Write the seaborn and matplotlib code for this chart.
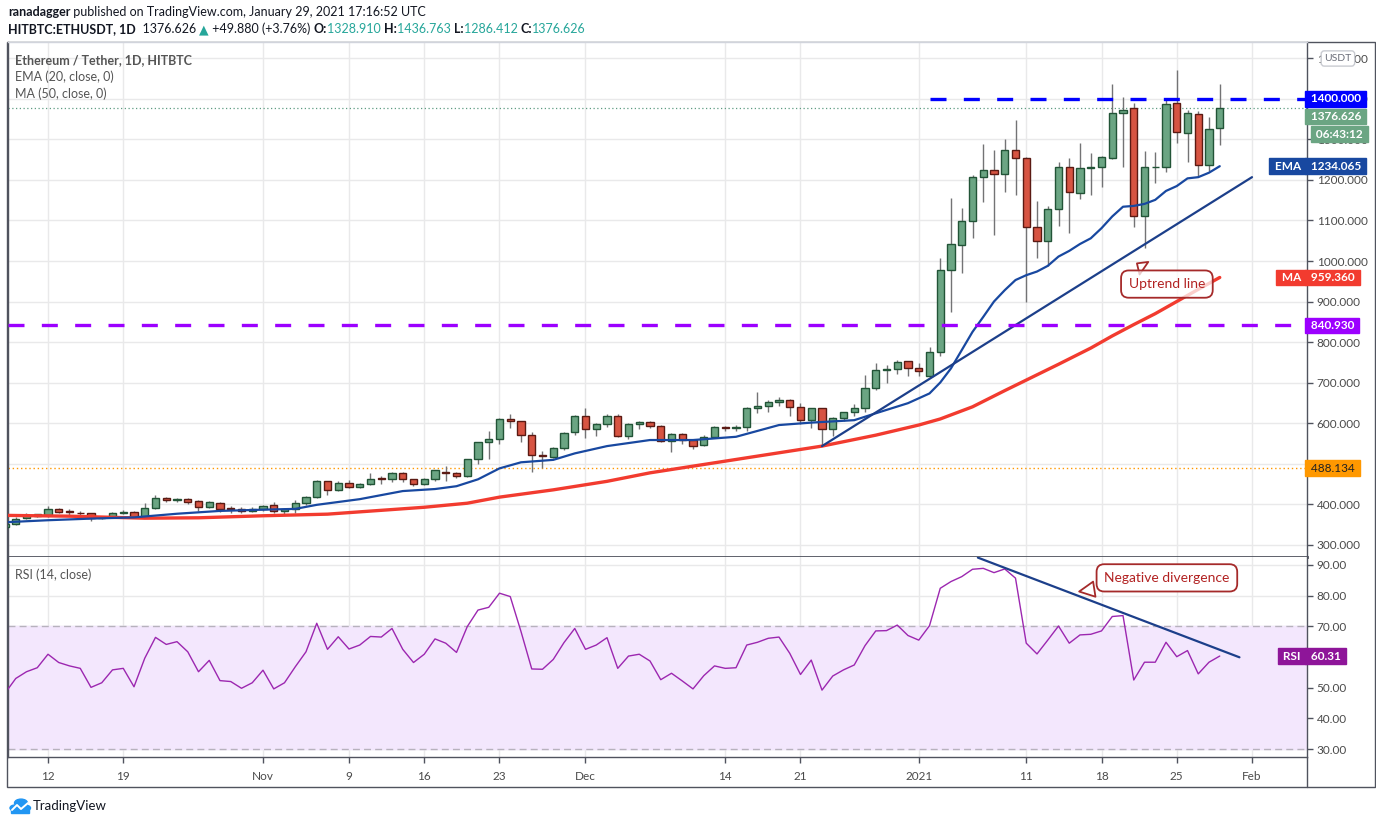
import matplotlib
matplotlib.use("Agg")
import matplotlib.pyplot as plt
import matplotlib.dates as mdates
from matplotlib.lines import Line2D
from matplotlib.patches import Rectangle, Circle
from matplotlib.transforms import blended_transform_factory
import pandas as pd
import seaborn as sns

# daily candles, Oct 8 2020 .. Jan 29 2021
dates = pd.date_range("2020-10-08", "2021-01-29", freq="D")

opens = [344, 351, 365, 370, 374, 387, 381, 379, 377, 366, 367, 377, 380, 367, 390, 414, 410, 412, 407, 392, 402, 388, 387, 382,
         387, 397, 382, 387, 402, 417, 456, 434, 453, 443, 449, 463, 463, 476, 461, 449, 461, 479, 476, 469, 510, 552, 560, 609, 604, 570, 519, 517, 538, 577,
         617, 585, 597, 617, 567, 597, 602, 592, 555, 572, 557, 545, 566, 589, 588, 589, 636, 643, 653, 658, 639, 607, 636, 585, 612, 627, 636, 686, 731, 733, 752,
         735, 716, 775, 977, 1039, 1098, 1207, 1224, 1214, 1273, 1254, 1083, 1049, 1128, 1231, 1167, 1229, 1231, 1254, 1365, 1377, 1111, 1231, 1231, 1391, 1317, 1362, 1236, 1328.91]
highs = [352, 368, 378, 376, 395, 389, 387, 383, 379, 370, 380, 385, 382, 403, 422, 418, 416, 416, 410, 408, 405, 395, 392, 393,
         397, 405, 389, 410, 420, 459, 458, 456, 460, 452, 477, 470, 479, 478, 463, 465, 485, 495, 480, 511, 554, 580, 612, 623, 606, 578, 531, 541, 578, 620,
         636, 600, 622, 622, 600, 606, 605, 594, 575, 575, 560, 570, 592, 592, 596, 639, 677, 658, 664, 660, 649, 637, 637, 615, 628, 648, 718, 749, 743, 755, 754,
         747, 787, 1007, 1156, 1130, 1212, 1288, 1274, 1301, 1348, 1258, 1148, 1136, 1244, 1254, 1292, 1266, 1260, 1437, 1406, 1389, 1272, 1270, 1398, 1472, 1373, 1370, 1356, 1436.763]
lows = [338, 348, 363, 368, 367, 378, 373, 373, 359, 364, 366, 375, 365, 365, 388, 404, 406, 401, 384, 390, 380, 379, 377, 380,
        384, 377, 376, 377, 398, 415, 423, 432, 440, 440, 446, 450, 455, 455, 445, 446, 458, 456, 465, 467, 498, 510, 547, 587, 554, 480, 490, 513, 533, 570,
        562, 568, 590, 565, 560, 585, 588, 552, 529, 548, 537, 543, 562, 580, 580, 581, 625, 628, 642, 617, 598, 587, 545, 567, 605, 618, 626, 681, 698, 720, 717,
        717, 711, 766, 875, 970, 1056, 1145, 1064, 1170, 1164, 900, 1007, 988, 1087, 1068, 1152, 1164, 1183, 1252, 1233, 1083, 1031, 1193, 1219, 1291, 1244, 1208, 1221, 1286.412]
closes = [351, 364, 370, 375, 387, 380, 380, 377, 365, 367, 377, 380, 367, 390, 414, 409, 413, 406, 392, 405, 387, 387, 382, 387,
          396, 382, 387, 402, 417, 456, 435, 453, 443, 450, 463, 462, 476, 461, 449, 461, 483, 477, 469, 510, 552, 560, 609, 604, 570, 520, 518, 538, 575, 617,
          585, 597, 617, 567, 597, 602, 592, 555, 572, 557, 543, 566, 589, 587, 590, 636, 643, 653, 658, 639, 607, 636, 585, 612, 627, 636, 686, 730, 733, 750, 735,
          728, 775, 978, 1041, 1098, 1207, 1224, 1215, 1273, 1254, 1083, 1049, 1128, 1231, 1170, 1229, 1233, 1256, 1365, 1373, 1111, 1231, 1233, 1387, 1318, 1365, 1236, 1325, 1376.626]

rsi = [48.2, 53.0, 55.2, 56.5, 60.9, 58.2, 57.1, 56.3, 50.1, 51.6, 55.8, 56.3, 50.3, 59.6, 66.4, 64.1, 65.0, 61.7, 55.2, 58.9, 52.3, 52.0, 49.8, 51.6,
       55.7, 49.6, 51.6, 56.8, 61.7, 71.0, 62.5, 66.6, 62.6, 63.9, 66.7, 66.5, 69.3, 62.5, 58.2, 60.9, 65.9, 64.5, 61.5, 69.9, 75.3, 76.2, 80.8, 79.7, 68.3, 56.1, 56.0, 59.2, 64.7, 69.3,
       62.5, 63.9, 66.3, 56.3, 60.3, 60.9, 58.7, 52.6, 54.7, 52.2, 49.6, 53.9, 57.1, 56.3, 56.5, 63.9, 64.8, 66.1, 66.5, 61.2, 54.3, 59.0, 49.2, 53.8, 55.8, 57.4, 63.7, 68.5, 68.6, 70.4, 67.0,
       65.5, 70.2, 82.4, 84.6, 86.2, 88.6, 88.9, 87.5, 88.7, 85.7, 64.5, 61.0, 65.5, 70.1, 64.5, 67.2, 67.4, 68.5, 73.2, 73.5, 52.5, 58.3, 58.3, 64.8, 60.1, 62.1, 54.5, 58.3, 60.31]

# moving averages, sampled off the chart
ema_dates = ["2020-10-08", "2020-10-12", "2020-10-16", "2020-10-20", "2020-10-24", "2020-10-28", "2020-11-01", "2020-11-04",
             "2020-11-06", "2020-11-10", "2020-11-14", "2020-11-17", "2020-11-19", "2020-11-21", "2020-11-23", "2020-11-25",
             "2020-11-28", "2020-11-30", "2020-12-03", "2020-12-07", "2020-12-11", "2020-12-15", "2020-12-19", "2020-12-22",
             "2020-12-26", "2020-12-28", "2020-12-31", "2021-01-02", "2021-01-03", "2021-01-04", "2021-01-05", "2021-01-06",
             "2021-01-07", "2021-01-08", "2021-01-09", "2021-01-10", "2021-01-11", "2021-01-12", "2021-01-13", "2021-01-14",
             "2021-01-15", "2021-01-16", "2021-01-17", "2021-01-18", "2021-01-19", "2021-01-20", "2021-01-21", "2021-01-22",
             "2021-01-23", "2021-01-24", "2021-01-25", "2021-01-26", "2021-01-27", "2021-01-28", "2021-01-29"]
ema_vals = [355, 360, 364, 367, 376, 383, 386, 388, 398, 412, 432, 437, 444, 461, 488, 503, 509, 525, 543, 558, 558, 566, 595, 601,
            607, 624, 649, 673, 700, 735, 780, 825, 862, 900, 928, 953, 965, 974, 988, 1011, 1025, 1042, 1056, 1081, 1110, 1134, 1136,
            1141, 1151, 1173, 1185, 1204, 1207, 1218, 1234.065]

ma_dates = ["2020-10-08", "2020-10-14", "2020-10-21", "2020-10-26", "2020-11-01", "2020-11-07", "2020-11-16", "2020-11-20",
            "2020-11-23", "2020-11-28", "2020-12-03", "2020-12-07", "2020-12-15", "2020-12-23", "2020-12-28", "2021-01-01",
            "2021-01-03", "2021-01-06", "2021-01-09", "2021-01-11", "2021-01-14", "2021-01-17", "2021-01-19", "2021-01-21",
            "2021-01-23", "2021-01-25", "2021-01-27", "2021-01-29"]
ma_vals = [372, 370, 365, 366, 371, 375, 392, 402, 417, 435, 456, 477, 510, 543, 570, 595, 610, 640, 680, 706, 745, 785, 815,
           843, 870, 900, 930, 959.36]

uptrend_dates = ["2020-12-23", "2021-02-01"]
uptrend_prices = [543, 1207]
diverg_dates = ["2021-01-06 12:00", "2021-01-30 20:00"]
diverg_rsi = [92.4, 59.9]

resistance = 1400
support = 840.93
orange_level = 488.134
last_close = 1376.626
last_ema = 1234.065
last_ma = 959.36
last_rsi = 60.31
countdown = "06:43:12"

price_ticks = list(range(300, 1600, 100))
rsi_ticks = list(range(30, 100, 10))
date_ticks = ["2020-10-12", "2020-10-19", "2020-11-01", "2020-11-09", "2020-11-16", "2020-11-23", "2020-12-01",
              "2020-12-14", "2020-12-21", "2021-01-01", "2021-01-11", "2021-01-18", "2021-01-25", "2021-02-01"]
date_labels = ["12", "19", "Nov", "9", "16", "23", "Dec", "14", "21", "2021", "11", "18", "25", "Feb"]

# colours
UP, UP_EDGE = "#6ba583", "#225437"
DOWN, DOWN_EDGE = "#d75442", "#5b1a13"
WICK = "#737375"
GRID = "#e9e9ea"
TXT = "#4a4a4a"
EMA_C = "#1848a0"
MA_C = "#f23b2f"
PURPLE = "#9c00ff"
ORANGE = "#ff9800"
RSI_C = "#9c27b0"
CALLOUT = "#a52a2a"

sns.set_theme(style="white")
plt.rcParams["font.family"] = ["Lato", "DejaVu Sans"]

W, H = 1376, 824
fig = plt.figure(figsize=(W / 100, H / 100), dpi=100)


def fx(px):
    return px / W


def fy(py):
    return 1 - py / H


L, R = 8, 1307
ax = fig.add_axes([fx(L), fy(557), fx(R - L), (557 - 42) / H])
axr = fig.add_axes([fx(L), fy(757), fx(R - L), (757 - 557) / H], sharex=ax)

x = mdates.date2num(dates)
t0 = mdates.date2num(pd.Timestamp("2020-10-12"))
ax.set_xlim(t0 - 40 / 10.75, t0 + (R - 48) / 10.75)
ax.set_ylim(269.2, 1540.7)
axr.set_ylim(27.4, 92.6)

df = pd.DataFrame({"x": x, "o": opens, "h": highs, "l": lows, "c": closes, "rsi": rsi})
up = df["c"] >= df["o"]

# grid
for a in (ax, axr):
    a.set_facecolor("white")
    for d in date_ticks:
        a.axvline(mdates.date2num(pd.Timestamp(d)), color=GRID, lw=1, zorder=0)
for p in price_ticks:
    ax.axhline(p, color=GRID, lw=1, zorder=0)
for r in rsi_ticks:
    axr.axhline(r, color=GRID, lw=1, zorder=0)

# candles
ax.vlines(df["x"], df["l"], df["h"], color=WICK, lw=1, zorder=2)
body_lo = df[["o", "c"]].min(axis=1)
body_h = (df["c"] - df["o"]).abs().clip(lower=2)
ax.bar(df["x"][up], body_h[up], bottom=body_lo[up], width=0.68, color=UP, edgecolor=UP_EDGE, lw=1, zorder=3)
ax.bar(df["x"][~up], body_h[~up], bottom=body_lo[~up], width=0.68, color=DOWN, edgecolor=DOWN_EDGE, lw=1, zorder=3)

# moving averages
ema_df = pd.DataFrame({"x": mdates.date2num(pd.to_datetime(ema_dates)), "y": ema_vals})
ma_df = pd.DataFrame({"x": mdates.date2num(pd.to_datetime(ma_dates)), "y": ma_vals})
sns.lineplot(data=ma_df, x="x", y="y", ax=ax, color=MA_C, lw=2.4, sort=False, estimator=None, zorder=4)
sns.lineplot(data=ema_df, x="x", y="y", ax=ax, color=EMA_C, lw=1.6, sort=False, estimator=None, zorder=4)

# levels
ax.axhline(support, color=PURPLE, lw=2.4, ls=(0, (4.8, 5.2)), zorder=5)
ax.hlines(resistance, mdates.date2num(pd.Timestamp("2021-01-02")), ax.get_xlim()[1], color="#0000ff", lw=2.4,
          ls=(0, (4.8, 5.2)), zorder=5)
ax.axhline(orange_level, color=ORANGE, lw=1, ls=(0, (1, 2)), zorder=1)
ax.axhline(last_close, color="#5f9c82", lw=0.9, ls=(0, (1, 2)), zorder=1)

# uptrend line
ax.plot(mdates.date2num(pd.to_datetime(uptrend_dates)), uptrend_prices, color="#1c3f8a", lw=1.6, zorder=4)

# RSI panel
axr.axhspan(30, 70, color="#f3e7fd", zorder=0.5)
axr.axhline(70, color="#b7b2bd", lw=1, ls=(0, (5, 3)), zorder=1)
axr.axhline(30, color="#b7b2bd", lw=1, ls=(0, (5, 3)), zorder=1)
sns.lineplot(data=df, x="x", y="rsi", ax=axr, color=RSI_C, lw=1, sort=False, estimator=None, zorder=4)
axr.plot(mdates.date2num(pd.to_datetime(diverg_dates)), diverg_rsi, color="#1c3f8a", lw=1.6, zorder=4)

# axes decorations
for a in (ax, axr):
    a.set_xlabel("")
    a.set_ylabel("")
    a.yaxis.tick_right()
    for s in a.spines.values():
        s.set_color("#50535e")
        s.set_linewidth(1)
    a.tick_params(axis="y", which="both", length=4, width=1, color="#50535e", labelcolor=TXT, labelsize=8.5, pad=3)

ax.spines["bottom"].set_linewidth(2)
ax.spines["top"].set_color("#d1d4dc")
axr.spines["top"].set_visible(False)

ax.set_yticks(price_ticks)
ax.set_yticklabels([f"{p:.3f}" for p in price_ticks])
axr.set_yticks(rsi_ticks)
axr.set_yticklabels([f"{r:.2f}" for r in rsi_ticks])

axr.set_xticks(mdates.date2num(pd.to_datetime(date_ticks)))
axr.set_xticklabels(date_labels)
axr.tick_params(axis="x", length=4, width=1, color="#50535e", labelcolor=TXT, labelsize=8.5, pad=6, bottom=True)
ax.tick_params(axis="x", bottom=False, labelbottom=False)

# price tags on the right axis (figure level so they sit above the tick labels)
ptrans = blended_transform_factory(ax.transAxes, ax.transData)
rtrans = blended_transform_factory(axr.transAxes, axr.transData)
pix = blended_transform_factory(ax.transAxes, fig.transFigure)


def tag(trans, y, text, fc, tc="white", xpos=1.0005, bold=True, ha="left", z=20):
    fig.text(xpos, y, f" {text} ", transform=trans, ha=ha, va="center", color=tc, fontsize=8.5,
             fontweight="bold" if bold else "normal",
             bbox=dict(boxstyle="square,pad=0.2", fc=fc, ec=fc), zorder=z)


# the close tag and countdown are pushed below the 1400 tag, as TradingView stacks them
tag(pix, fy(116.5), f"{last_close:.3f}", UP)
tag(pix, fy(134), countdown, UP, xpos=1.005)
tag(ptrans, resistance, "1400.000", "#0000ff", z=21)
tag(ptrans, last_ema, f"{last_ema:.3f}", EMA_C)
tag(ptrans, last_ema, "EMA", EMA_C, xpos=0.9975, ha="right")
tag(ptrans, last_ma, f"{last_ma:.3f}", MA_C)
tag(ptrans, last_ma, "MA", MA_C, xpos=0.9975, ha="right")
tag(ptrans, support, f"{support:.3f}", PURPLE)
tag(ptrans, orange_level, f"{orange_level:.3f}", ORANGE, tc="#222222", bold=False)
tag(rtrans, last_rsi, f"{last_rsi:.2f}", "#8e1599")
tag(rtrans, last_rsi, "RSI", "#8e1599", xpos=0.9975, ha="right")
fig.text(1.0238, 1500, "USDT", transform=ptrans, ha="center", va="center", color="#6a6d78", fontsize=7.5,
         bbox=dict(boxstyle="round,pad=0.3", fc="white", ec="#c9cbd1"), zorder=20)

# callouts
ax.annotate("Uptrend line", xy=(mdates.date2num(pd.Timestamp("2021-01-21 02:00")), 998),
            xytext=(mdates.date2num(pd.Timestamp("2021-01-24 02:00")), 943),
            ha="center", va="center", color="#b22222", fontsize=10, zorder=15,
            bbox=dict(boxstyle="round,pad=0.55", fc=(1, 1, 1, 0.75), ec=CALLOUT, lw=1.3),
            arrowprops=dict(arrowstyle="wedge,tail_width=1.1,shrink_factor=0.5", fc=(1, 1, 1, 0.75), ec=CALLOUT, lw=1.3))
axr.annotate("Negative divergence", xy=(mdates.date2num(pd.Timestamp("2021-01-15 16:00")), 81.2),
             xytext=(mdates.date2num(pd.Timestamp("2021-01-24 02:00")), 85.8),
             ha="center", va="center", color="#b22222", fontsize=10, zorder=15,
             bbox=dict(boxstyle="round,pad=0.55", fc="white", ec=CALLOUT, lw=1.3),
             arrowprops=dict(arrowstyle="wedge,tail_width=1.1,shrink_factor=0.5", fc="white", ec=CALLOUT, lw=1.3))

# legends inside panels
ax.text(fx(15 - L) / fx(R - L), 1 - (60 - 42) / (557 - 42), "Ethereum / Tether, 1D, HITBTC", transform=ax.transAxes,
        ha="left", va="center", fontsize=9, fontweight="bold", color="#555555")
ax.text(fx(15 - L) / fx(R - L), 1 - (77 - 42) / (557 - 42), "EMA (20, close, 0)", transform=ax.transAxes,
        ha="left", va="center", fontsize=9, color="#555555")
ax.text(fx(15 - L) / fx(R - L), 1 - (94 - 42) / (557 - 42), "MA (50, close, 0)", transform=ax.transAxes,
        ha="left", va="center", fontsize=9, color="#555555")
axr.text(fx(15 - L) / fx(R - L), 1 - (575 - 557) / (757 - 557), "RSI (14, close)", transform=axr.transAxes,
         ha="left", va="center", fontsize=9, color="#555555")

# outer frame and axis column lines
fig.add_artist(Rectangle((fx(7), fy(787)), fx(1375 - 7), (787 - 42) / H, transform=fig.transFigure,
                         fill=False, ec="#50535e", lw=1, zorder=0))
fig.add_artist(Line2D([fx(R), fx(R)], [fy(757), fy(787)], transform=fig.transFigure, color="#50535e", lw=1))

# header
fig.canvas.draw()
renderer = fig.canvas.get_renderer()


def chain(parts, px, py, size):
    xpos = fx(px)
    for s, color, weight in parts:
        t = fig.text(xpos, fy(py), s, ha="left", va="center", fontsize=size, color=color, fontweight=weight)
        bb = t.get_window_extent(renderer)
        xpos = bb.x1 / W


TEAL = "#26a69a"
DARK = "#131722"
chain([("ranadagger", DARK, "bold"), (" published on TradingView.com, January 29, 2021 17:16:52 UTC", DARK, "normal")],
      8, 12, 9)
chain([("HITBTC:ETHUSDT, 1D", DARK, "bold"), ("  1376.626 ", DARK, "normal"), ("▲", TEAL, "normal"),
       (" +49.880 (+3.76%) ", DARK, "normal"), ("O:", DARK, "bold"), ("1328.910 ", TEAL, "normal"),
       ("H:", DARK, "bold"), ("1436.763 ", TEAL, "normal"), ("L:", DARK, "bold"), ("1286.412 ", TEAL, "normal"),
       ("C:", DARK, "bold"), ("1376.626", TEAL, "normal")], 8, 29, 9)

# TradingView logo
for cx, cy, r in [(15, 808, 5), (21, 803, 6.5), (26, 808, 4.5)]:
    fig.add_artist(Circle((fx(cx), fy(cy)), r / W, transform=fig.transFigure, color="#2196f3", zorder=5))
fig.add_artist(Rectangle((fx(11), fy(813)), fx(18), 5 / H, transform=fig.transFigure, color="#2196f3", zorder=5))
fig.add_artist(Line2D([fx(12), fx(17), fx(21), fx(28)], [fy(810), fy(805), fy(809), fy(803)],
                      transform=fig.transFigure, color="white", lw=1.4, zorder=6))
fig.text(fx(33), fy(806), "TradingView", ha="left", va="center", fontsize=9.5, color=DARK)

fig.savefig("out.png", dpi=100, facecolor="white")
